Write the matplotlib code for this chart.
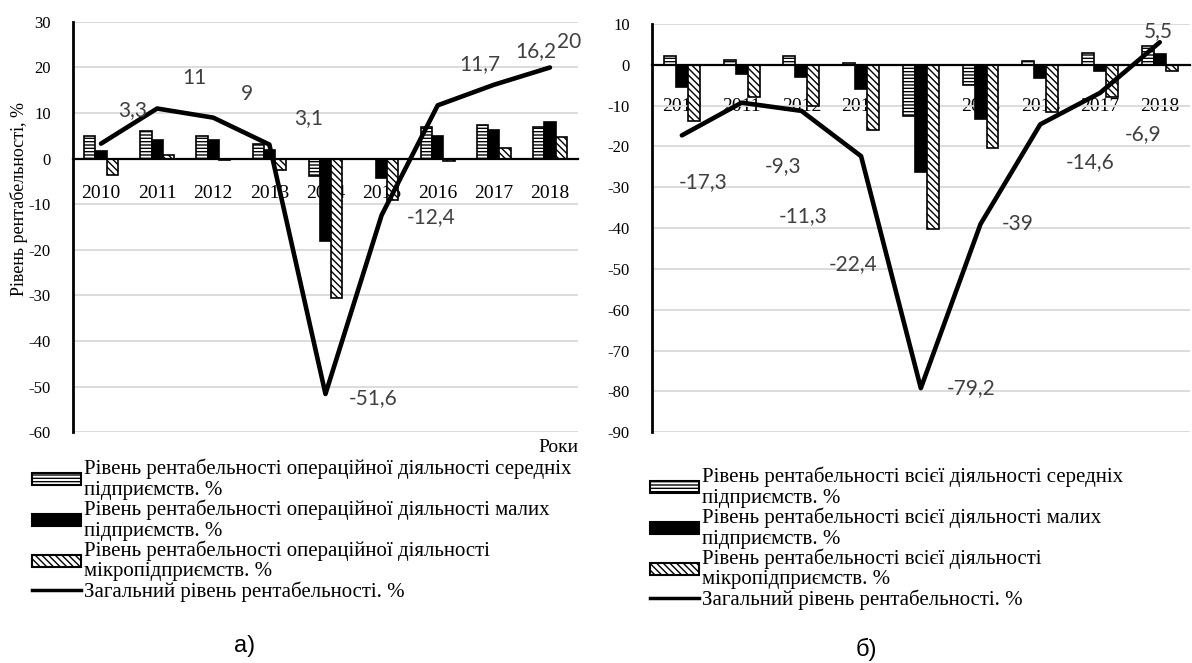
import matplotlib
matplotlib.use("Agg")
import matplotlib.pyplot as plt
import matplotlib.patches as mpatches
from matplotlib.lines import Line2D
import numpy as np

plt.rcParams['font.family'] = ['Liberation Serif', 'DejaVu Serif']
plt.rcParams['axes.unicode_minus'] = False
plt.rcParams['hatch.linewidth'] = 1.0

# Дані
years = ['2010', '2011', '2012', '2013', '2014', '2015', '2016', '2017', '2018']

# а) операційна діяльність
op_medium = [5.0, 6.1, 5.0, 3.2, -3.7, 0.0, 7.0, 7.4, 7.0]
op_small = [1.7, 4.1, 4.0, 2.0, -18.0, -4.2, 5.0, 6.3, 8.1]
op_micro = [-3.5, 0.9, -0.2, -2.4, -30.5, -9.0, -0.6, 2.4, 4.8]
op_total = [3.3, 11, 9, 3.1, -51.6, -12.4, 11.7, 16.2, 20]

# б) вся діяльність
all_medium = [2.2, 1.2, 2.2, 0.3, -12.5, -5.0, 0.8, 2.9, 4.6]
all_small = [-5.5, -2.2, -3.0, -6.0, -26.2, -13.2, -3.3, -1.6, 2.7]
all_micro = [-13.8, -8.0, -10.0, -16.0, -40.2, -20.4, -11.7, -7.8, -1.6]
all_total = [-17.3, -9.3, -11.3, -22.4, -79.2, -39, -14.6, -6.9, 5.5]

# зсуви підписів даних (пт), як в Excel
op_offsets = [(23, 24), (27, 22), (24, 17), (28, 19), (34, -3), (36, -1), (30, 30), (30, 24), (14, 18)]
all_offsets = [(15, -34), (30, -46), (1, -76), (-6, -78), (36, 0), (27, 0), (36, -27), (31, -30), (-1, 8)]

op_labels = ['Рівень рентабельності операційної діяльності середніх\nпідприємств. %',
             'Рівень рентабельності операційної діяльності малих\nпідприємств. %',
             'Рівень рентабельності операційної діяльності\nмікропідприємств. %',
             'Загальний рівень рентабельності. %']
all_labels = ['Рівень рентабельності всієї діяльності середніх\nпідприємств. %',
              'Рівень рентабельності всієї діяльності малих\nпідприємств. %',
              'Рівень рентабельності всієї діяльності\nмікропідприємств. %',
              'Загальний рівень рентабельності. %']


def draw_panel(ax, medium, small, micro, total, offsets, ylim, xpad):
    x = np.arange(len(years))
    w = 0.2
    ax.bar(x - w, medium, w, facecolor='white', edgecolor='black', hatch='-----', lw=1.2, zorder=2)
    ax.bar(x, small, w, facecolor='black', edgecolor='black', lw=1.2, zorder=2)
    ax.bar(x + w, micro, w, facecolor='white', edgecolor='black', hatch='\\\\\\\\\\', lw=1.2, zorder=2)
    ax.plot(x, total, color='black', lw=3.3, zorder=3, solid_capstyle='round')

    for xi, v, (dx, dy) in zip(x, total, offsets):
        ax.annotate(('%g' % v).replace('.', ','), (xi, v), xytext=(dx, dy),
                    textcoords='offset points', ha='center', va='center',
                    fontfamily='Lato', fontsize=15, color='#404040', zorder=4)

    ax.set_xlim(-0.5, len(years) - 0.5)
    ax.set_ylim(*ylim)
    ax.set_yticks(np.arange(ylim[0], ylim[1] + 1, 10))
    ax.yaxis.grid(True, color='#d9d9d9', lw=1.3)
    ax.set_axisbelow(True)
    ax.set_xticks(x)
    ax.set_xticklabels(years)
    ax.tick_params(axis='x', length=0, pad=xpad, labelsize=14)
    ax.tick_params(axis='y', length=0, pad=16, labelsize=12)
    ax.spines['top'].set_visible(False)
    ax.spines['right'].set_visible(False)
    ax.spines['bottom'].set_position(('data', 0))
    ax.spines['bottom'].set_linewidth(1.6)
    ax.spines['left'].set_linewidth(2.0)
    ax.spines['bottom'].set_zorder(2.5)


def legend_handles():
    return [mpatches.Patch(facecolor='white', edgecolor='black', hatch='-----', lw=1.5),
            mpatches.Patch(facecolor='black', edgecolor='black', lw=1.5),
            mpatches.Patch(facecolor='white', edgecolor='black', hatch='\\\\\\\\\\', lw=1.5),
            Line2D([], [], color='black', lw=2.5)]


fig = plt.figure(figsize=(11.92, 6.63), dpi=100)

ax1 = fig.add_axes([0.0612, 0.348, 0.4237, 0.619])
draw_panel(ax1, op_medium, op_small, op_micro, op_total, op_offsets, (-60, 30), 19)
fig.text(0.016, 0.70, 'Рівень рентабельності, %', rotation=90, ha='center', va='center', fontsize=13)
fig.text(0.485, 0.325, 'Роки', ha='right', va='center', fontsize=14)

ax2 = fig.add_axes([0.547, 0.348, 0.451, 0.616])
draw_panel(ax2, all_medium, all_small, all_micro, all_total, all_offsets, (-90, 10), 24)

for labels, anchor in [(op_labels, (0.027, 0.308)), (all_labels, (0.545, 0.296))]:
    leg = fig.legend(legend_handles(), labels, loc='upper left', bbox_to_anchor=anchor,
                     frameon=False, prop={'size': 15},
                     handlelength=2.35, handleheight=0.5, handletextpad=0.15,
                     labelspacing=0.0, borderaxespad=0, borderpad=0)
    for t in leg.get_texts():
        t.set_linespacing(1.1)

fig.text(0.205, 0.025, 'а)', ha='center', va='center', fontfamily='Liberation Sans', fontsize=17)
fig.text(0.727, 0.02, 'б)', ha='center', va='center', fontfamily='Liberation Sans', fontsize=17)

fig.savefig('out.png', dpi=100)
